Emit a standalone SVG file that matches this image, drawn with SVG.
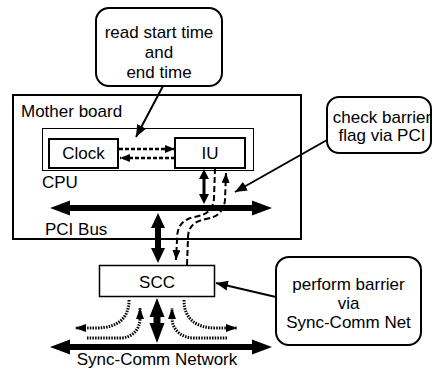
<svg xmlns="http://www.w3.org/2000/svg" width="435" height="369" viewBox="0 0 435 369">
<defs>
<style>
text{font-family:"Liberation Sans",Arial,sans-serif;font-size:17px;fill:#000}
.mid{text-anchor:middle}
.box{fill:#fff;stroke:#000}
.callout{fill:#fff;stroke:#000;stroke-width:2}
.ptr{stroke:#000;stroke-width:2;fill:none}
.dash{stroke:#000;stroke-width:2;fill:none;stroke-dasharray:6 3}
.dot{stroke:#000;stroke-width:3;fill:none;stroke-dasharray:1.5 1.2}
.cdot{stroke:#000;stroke-width:2.5;fill:none;stroke-dasharray:4 2}
.solid{fill:#000;stroke:none}
</style>
<marker id="ah" markerUnits="userSpaceOnUse" markerWidth="12" markerHeight="10" refX="12" refY="5" orient="auto"><path d="M0,0 L12,5 L0,10 z"/></marker>
<marker id="ahd" markerUnits="userSpaceOnUse" markerWidth="10" markerHeight="8" refX="10" refY="4" orient="auto"><path d="M0,0 L10,4 L0,8 z"/></marker>
<marker id="aho" markerUnits="userSpaceOnUse" markerWidth="11" markerHeight="8" refX="11" refY="4" orient="auto"><path d="M0,0 L11,4 L0,8 z"/></marker>
</defs>

<g id="motherboard">
<rect class="box" x="13" y="95" width="288" height="144" stroke-width="2"/>
<text x="21" y="117">Mother board</text>
</g>
<g id="cpu">
<rect class="box" x="42.5" y="128.5" width="211" height="42" stroke-width="1"/>
<text x="42" y="188">CPU</text>
</g>
<g id="clock">
<rect class="box" x="49" y="139" width="69" height="29" stroke-width="2"/>
<text class="mid" x="83.5" y="159">Clock</text>
</g>
<g id="iu">
<rect class="box" x="175" y="138" width="70" height="30" stroke-width="2"/>
<text class="mid" x="210" y="159">IU</text>
</g>
<g id="pcibus">
<polygon class="solid" points="50,208 70,200.5 70,205 252,205 252,200.5 272,208 252,215.5 252,211 70,211 70,215.5"/>
<text x="45" y="235">PCI Bus</text>
</g>
<g id="scc">
<rect class="box" x="99.5" y="265.5" width="115" height="31" stroke-width="1.5"/>
<text class="mid" x="157" y="288">SCC</text>
</g>
<g id="syncnet">
<polygon class="solid" points="50,347 70,339.5 70,344 252,344 252,339.5 272,347 252,354.5 252,350 70,350 70,354.5"/>
<text class="mid" x="157" y="365">Sync-Comm Network</text>
</g>
<g id="callout-time">
<rect class="callout" x="96" y="8" width="126" height="78" rx="13"/>
<text class="mid" x="159" y="38">read start time</text>
<text class="mid" x="159" y="58">and</text>
<text class="mid" x="159" y="78">end time</text>
</g>
<g id="callout-check">
<rect class="callout" x="327" y="97" width="104" height="56" rx="12"/>
<text class="mid" x="382" y="123">check barrier</text>
<text class="mid" x="382" y="141">flag via PCI</text>
</g>
<g id="callout-perform">
<rect class="callout" x="276" y="257" width="145" height="88" rx="13"/>
<text class="mid" x="348.5" y="290">perform barrier</text>
<text class="mid" x="348.5" y="309">via</text>
<text class="mid" x="348.5" y="328">Sync-Comm Net</text>
</g>

<g id="connectors">
<line class="ptr" x1="163" y1="86" x2="136" y2="137" marker-end="url(#ah)"/>
<line class="ptr" x1="327" y1="140" x2="235" y2="192" marker-end="url(#ah)"/>
<line class="ptr" x1="276" y1="297" x2="216" y2="283" marker-end="url(#ah)"/>
<line class="cdot" x1="119" y1="149" x2="175" y2="149" marker-end="url(#ahd)"/>
<line class="cdot" x1="175" y1="158" x2="120" y2="158" marker-end="url(#ahd)"/>
<polygon class="solid" points="204,169 209,179 205.5,179 205.5,194 209,194 204,204 199,194 202.5,194 202.5,179 199,179"/>
<path class="dash" d="M215,168 L214,198 C213,212 205,215 194,217 C182,220 177,226 177,240 L176,260" marker-end="url(#ahd)"/>
<path class="dash" d="M187,265 L188,238 C188,226 195,221 206,219 C218,217 224,211 225,200 L226,173" marker-end="url(#ahd)"/>
<polygon class="solid" points="158,213 165,228 161,228 161,248 165,248 158,263 151,248 155,248 155,228 151,228"/>
<polygon class="solid" points="157,298 164.5,317 160.5,317 160.5,323 164.5,323 157,343 149.5,323 153.5,323 153.5,317 149.5,317"/>
<path class="dot" d="M129,300 C129,318 118,328 96,328 L75,328" marker-end="url(#aho)"/>
<path class="dot" d="M87,338 L120,338 C132,338 140,330 140,318 L140,308" marker-end="url(#aho)"/>
<path class="dot" d="M227,338 L194,338 C182,338 172,330 172,318 L172,308" marker-end="url(#aho)"/>
<path class="dot" d="M184,300 C184,318 195,328 216,328 L237,328" marker-end="url(#aho)"/>
</g>
</svg>
